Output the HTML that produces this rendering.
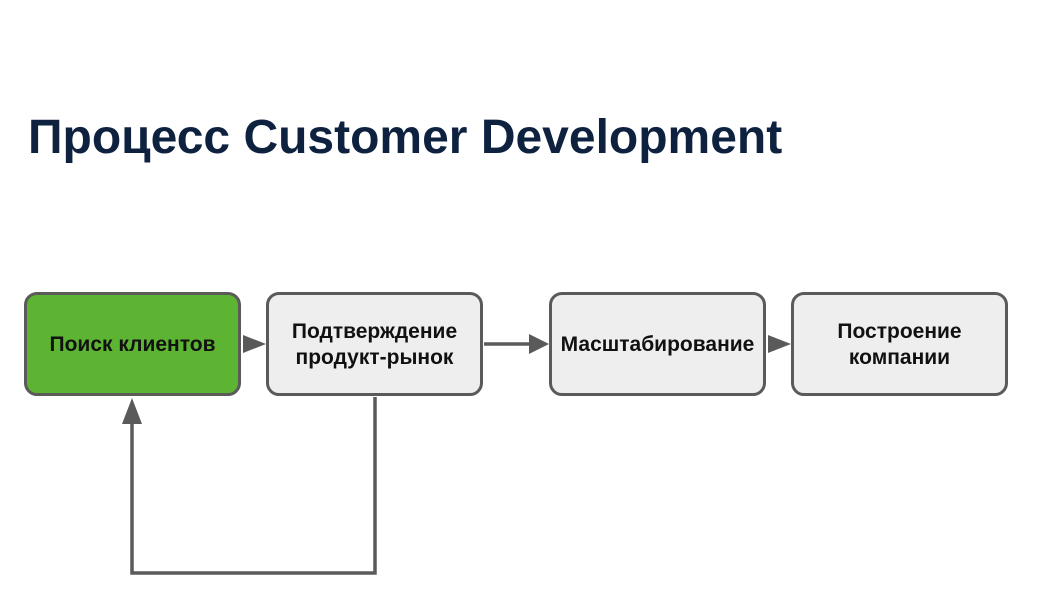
<!DOCTYPE html>
<html><head><meta charset="utf-8"><style>
html,body{margin:0;padding:0;background:#fff;}
body{width:1060px;height:597px;position:relative;overflow:hidden;font-family:"Liberation Sans",sans-serif;}
h1{position:absolute;left:28px;top:110px;margin:0;font-size:48px;font-weight:bold;color:#0e2240;letter-spacing:0px;white-space:nowrap;}
.b{position:absolute;top:292px;width:211px;height:98px;border:3.5px solid #5a5a5a;border-radius:13px;background:#eeeeee;display:flex;align-items:center;justify-content:center;text-align:center;font-weight:bold;font-size:21px;line-height:26px;color:#111;padding-top:2px;box-sizing:content-box;height:96px;}
</style></head><body>
<h1>Процесс Customer Development</h1>
<svg width="1060" height="597" style="position:absolute;left:0;top:0">
<g stroke="#5a5a5a" stroke-width="3.5" fill="none">
<line x1="484" y1="344" x2="535" y2="344"/>
<polyline points="375,397 375,573 132,573 132,412"/>
</g>
<g fill="#5a5a5a">
<polygon points="243,335 266,344 243,353"/>
<polygon points="529,334 549,344 529,354"/>
<polygon points="768,335 791,344 768,353"/>
<polygon points="122,424 132,398 142,424"/>
</g>
</svg>
<div class="b" style="left:24px;background:#5db432">Поиск клиентов</div>
<div class="b" style="left:266px">Подтверждение<br>продукт-рынок</div>
<div class="b" style="left:549px">Масштабирование</div>
<div class="b" style="left:791px">Построение<br>компании</div>
</body></html>
